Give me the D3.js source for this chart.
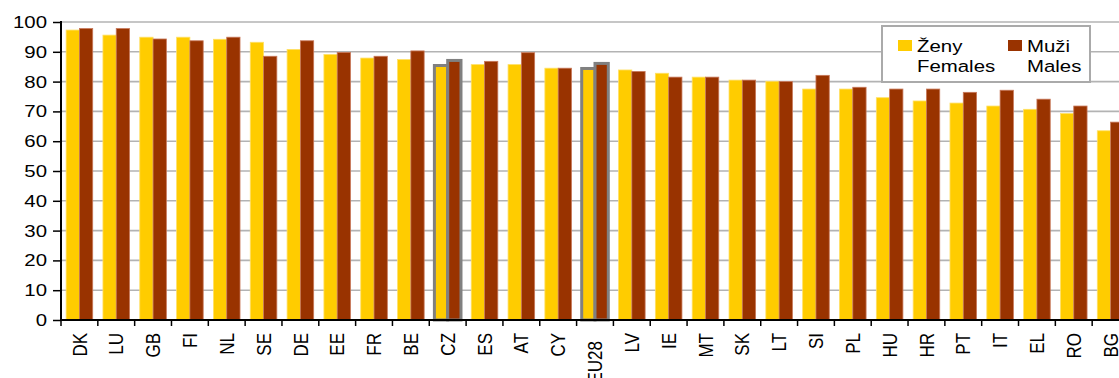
<!DOCTYPE html>
<html>
<head>
<meta charset="utf-8">
<script src="https://cdn.jsdelivr.net/npm/d3@7"></script>
<style>
html,body{margin:0;padding:0;background:#fff;}
svg{display:block;font-family:"Liberation Sans",Arial,sans-serif;}
</style>
</head>
<body>
<svg id="chart" width="1119" height="378"></svg>
<script>
const categories = ["DK","LU","GB","FI","NL","SE","DE","EE","FR","BE","CZ","ES","AT","CY","EU28","LV","IE","MT","SK","LT","SI","PL","HU","HR","PT","IT","EL","RO","BG"];
const females = [97.3,95.6,94.9,94.9,94.2,93.2,90.8,89.1,87.9,87.4,85.4,85.7,85.7,84.5,84.4,83.9,82.8,81.5,80.5,80.1,77.5,77.5,74.6,73.5,72.8,71.8,70.7,69.3,63.5];
const males   = [97.8,97.8,94.3,93.7,94.9,88.5,93.7,89.8,88.5,90.3,87.1,86.8,89.7,84.5,86.1,83.4,81.5,81.5,80.5,80.0,82.1,78.1,77.5,77.5,76.4,77.1,74.1,71.8,66.4];
const highlighted = ["CZ","EU28"];
const yTicks = [0,10,20,30,40,50,60,70,80,90,100];
const seriesNames = [["Ženy","Females"],["Muži","Males"]];
const colors = ["#FFCC00","#993300"];
const edgeColors = ["#FFE066","#C8785A"];

const svg = d3.select("#chart");
const x0 = 61, x1 = 1129, yTop = 22, yBot = 320;
const SX = 1.2;   // horizontal text stretch seen in the reference
const FS = 17;

const x = d3.scaleBand().domain(categories).range([x0, x1]).paddingInner(0.278).paddingOuter(0.139);
const xs = d3.scaleBand().domain([0,1]).range([0, x.bandwidth()]);
const y = d3.scaleLinear().domain([0,100]).range([yBot, yTop]);

// gridlines
svg.append("g").selectAll("line").data(yTicks.filter(t => t > 0)).join("line")
  .attr("x1", x0).attr("x2", 1119)
  .attr("y1", d => y(d)).attr("y2", d => y(d))
  .attr("stroke", "#b3b3b3").attr("stroke-width", 1.6);

// bars
const data = categories.map((c, i) => ({c, v: [females[i], males[i]]}));
const groups = svg.append("g").selectAll("g").data(data).join("g")
  .attr("transform", d => `translate(${x(d.c)},0)`);
groups.selectAll("rect").data(d => d.v.map((v, k) => ({v, k, c: d.c}))).join("rect")
  .attr("x", d => xs(d.k)).attr("width", xs.bandwidth())
  .attr("y", d => y(d.v)).attr("height", d => y(0) - y(d.v))
  .attr("fill", d => colors[d.k])
  .attr("stroke", d => highlighted.includes(d.c) ? "#808080" : edgeColors[d.k])
  .attr("stroke-width", d => highlighted.includes(d.c) ? 3 : 0.8);

// y axis
const yAxis = d3.axisLeft(y).tickValues(yTicks).tickSize(8).tickPadding(6);
const gy = svg.append("g").attr("transform", `translate(${x0},0)`).call(yAxis);
gy.select(".domain").attr("stroke", "#000").attr("stroke-width", 2).attr("d", `M0,${yTop-1}V${yBot}`);
gy.selectAll(".tick line").attr("stroke", "#000").attr("stroke-width", 1.5);
gy.selectAll(".tick text").attr("font-size", FS).attr("fill", "#000").attr("font-family", "Liberation Sans, Arial, sans-serif")
  .attr("x", 0).attr("transform", `translate(-14,0) scale(${SX},1)`);

// x axis
const xAxis = d3.axisBottom(x).tickSize(0).tickPadding(0);
const gx = svg.append("g").attr("transform", `translate(0,${yBot})`).call(xAxis);
gx.select(".domain").attr("stroke", "#000").attr("stroke-width", 2).attr("d", `M${x0},0H1119`);
gx.selectAll(".tick text")
  .attr("font-size", FS).attr("fill", "#000").attr("font-family", "Liberation Sans, Arial, sans-serif")
  .attr("text-anchor", "end")
  .attr("transform", `scale(${SX},1) rotate(-90)`)
  .attr("x", d => d.length > 3 ? -21 : -13).attr("y", 0).attr("dy", "0.35em");
// boundary ticks
const step = x.step();
const bounds = d3.range(categories.length + 1).map(i => x(categories[0]) - x.paddingOuter() * step + i * step);
gx.append("g").selectAll("line").data(bounds).join("line")
  .attr("x1", d => d).attr("x2", d => d).attr("y1", 0).attr("y2", 6)
  .attr("stroke", "#000").attr("stroke-width", 1.5);

// legend
const lg = svg.append("g").attr("transform", "translate(882,26)");
lg.append("rect").attr("width", 208).attr("height", 56).attr("fill", "#fff").attr("stroke", "#aaaaaa").attr("stroke-width", 2);
const items = lg.selectAll("g").data(seriesNames).join("g")
  .attr("transform", (d, i) => `translate(${i === 0 ? 16 : 126},0)`);
items.append("rect").attr("x", 0).attr("y", 14).attr("width", 14).attr("height", 11).attr("fill", (d, i) => colors[i]);
items.append("text").attr("transform", `translate(19,26) scale(${SX},1)`).attr("font-size", FS).attr("fill", "#000").text(d => d[0]);
items.append("text").attr("transform", `translate(19,46) scale(${SX},1)`).attr("font-size", FS).attr("fill", "#000").text(d => d[1]);
</script>
</body>
</html>
